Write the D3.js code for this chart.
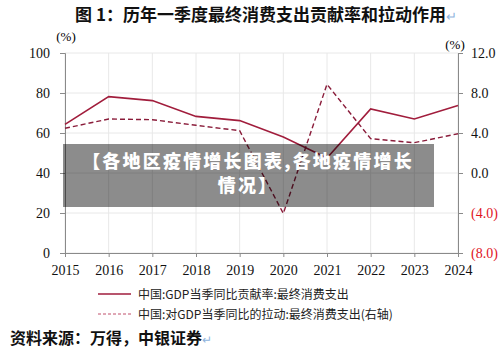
<!DOCTYPE html>
<html>
<head>
<meta charset="utf-8">
<script src="https://cdn.jsdelivr.net/npm/d3@7"></script>
<style>
  body { margin: 0; background: #fff; }
  svg { display: block; }
</style>
</head>
<body>
<div id="chart"></div>
<script>
// data
var years = [2015, 2016, 2017, 2018, 2019, 2020, 2021, 2022, 2023, 2024];
var contribution = [64.3, 78.2, 76.2, 68.3, 66.2, 58.0, 47.5, 72.0, 67.0, 73.7];   // left axis, %
var pull = [4.47, 5.4, 5.33, 4.77, 4.23, -4.05, 8.87, 3.43, 3.03, 3.93];              // right axis, pct points
var leftTicks = [0, 20, 40, 60, 80, 100];
var rightTicks = [-8, -4, 0, 4, 8, 12];

var W = 500, H = 352;
var margin = {top: 53, right: 42, bottom: 99, left: 65},
    width = W - margin.left - margin.right,
    height = H - margin.top - margin.bottom;

var red = "#a11d3c";
var serif = "'Liberation Serif', 'DejaVu Serif', serif";
var cjk = "'Noto Sans CJK SC', sans-serif";

var svg = d3.select("#chart")
    .append("svg")
    .attr("width", W)
    .attr("height", H);

// title
var title = svg.append("text")
    .attr("x", 266)
    .attr("y", 21)
    .attr("text-anchor", "middle")
    .style("font-family", cjk)
    .style("font-size", "17px")
    .style("font-weight", 700)
    .style("fill", "#111");
title.append("tspan").text("图 1：历年一季度最终消费支出贡献率和拉动作用");
title.append("tspan").style("fill", "#8fb4dd").style("font-weight", 400).style("font-size", "13px").text("↵");

var g = svg.append("g")
    .attr("transform", "translate(" + margin.left + "," + margin.top + ")");

var x = d3.scaleLinear().domain([2015, 2024]).range([0, width]);
var yL = d3.scaleLinear().domain([0, 100]).range([height, 0]);
var yR = d3.scaleLinear().domain([-8, 12]).range([height, 0]);

// gridlines
g.append("g").selectAll("line.v")
    .data(years)
    .enter().append("line")
    .attr("x1", d => x(d)).attr("x2", d => x(d))
    .attr("y1", 0).attr("y2", height)
    .attr("stroke", "#e8e8e8");
g.append("g").selectAll("line.h")
    .data(leftTicks)
    .enter().append("line")
    .attr("x1", 0).attr("x2", width)
    .attr("y1", d => yL(d)).attr("y2", d => yL(d))
    .attr("stroke", "#e8e8e8");

// axes
var xAxis = g.append("g")
    .attr("transform", "translate(0," + height + ")")
    .call(d3.axisBottom(x).tickValues(years).tickFormat(d3.format("d")).tickSize(4).tickPadding(6));
var yAxisL = g.append("g")
    .call(d3.axisLeft(yL).tickValues(leftTicks).tickSize(5).tickPadding(10));
var yAxisR = g.append("g")
    .attr("transform", "translate(" + width + ",0)")
    .call(d3.axisRight(yR).tickValues(rightTicks).tickSize(5).tickPadding(8)
        .tickFormat(d => d < 0 ? "(" + d3.format(".1f")(-d) + ")" : d3.format(".1f")(d)));

[xAxis, yAxisL, yAxisR].forEach(function(a) {
    a.select(".domain").attr("stroke", "#8a8a8a");
    a.selectAll(".tick line").attr("stroke", "#8a8a8a");
    a.selectAll("text")
        .style("font-family", serif)
        .style("font-size", "14px")
        .style("fill", "#111");
});
xAxis.selectAll("text").attr("dy", "0.85em");
yAxisR.selectAll("text").style("fill", d => d < 0 ? "#e0141e" : "#111");

// unit labels
svg.append("text").attr("x", 66).attr("y", 41).attr("text-anchor", "middle")
    .style("font-family", serif).style("font-size", "13px").text("(%)");
svg.append("text").attr("x", 455).attr("y", 49).attr("text-anchor", "middle")
    .style("font-family", serif).style("font-size", "13px").text("(%)");

// lines
var lineL = d3.line().x((d, i) => x(years[i])).y(d => yL(d));
var lineR = d3.line().x((d, i) => x(years[i])).y(d => yR(d));

g.append("path")
    .datum(contribution)
    .attr("d", lineL)
    .attr("fill", "none")
    .attr("stroke", red)
    .attr("stroke-width", 1.6);

g.append("path")
    .datum(pull)
    .attr("d", lineR)
    .attr("fill", "none")
    .attr("stroke", "#8a1c3a")
    .attr("stroke-width", 1.4)
    .attr("stroke-dasharray", "5,3");

// legend
var legend = svg.append("g");
legend.append("line").attr("x1", 98).attr("x2", 131).attr("y1", 294).attr("y2", 294)
    .attr("stroke", red).attr("stroke-width", 1.4);
legend.append("line").attr("x1", 98).attr("x2", 131).attr("y1", 314).attr("y2", 314)
    .attr("stroke", "#c0506c").attr("stroke-width", 1).attr("stroke-dasharray", "3,2");
legend.append("text").attr("x", 138).attr("y", 298.5)
    .style("font-family", cjk).style("font-size", "12px").style("fill", "#222")
    .text("中国:GDP当季同比贡献率:最终消费支出");
legend.append("text").attr("x", 138).attr("y", 318.5)
    .style("font-family", cjk).style("font-size", "12px").style("fill", "#222")
    .text("中国:对GDP当季同比的拉动:最终消费支出(右轴)");

// source
var src = svg.append("text").attr("x", 10).attr("y", 344)
    .style("font-family", cjk).style("font-size", "16px").style("font-weight", 700).style("fill", "#111");
src.append("tspan").text("资料来源：万得，中银证券");
src.append("tspan").style("fill", "#8fb4dd").style("font-weight", 400).style("font-size", "12px").text("↵");

// overlay banner
svg.append("rect")
    .attr("x", 63).attr("y", 144).attr("width", 371).attr("height", 63)
    .attr("fill", "#000").attr("fill-opacity", 0.45);
["【各地区疫情增长图表,各地疫情增长", "情况】"].forEach(function(t, i) {
    svg.append("text")
        .attr("x", 248)
        .attr("y", 168 + i * 24)
        .attr("text-anchor", "middle")
        .style("font-family", cjk).style("font-size", "18px").style("font-weight", 900)
        .style("letter-spacing", "2.2px")
        .style("fill", "#fff")
        .text(t);
});
</script>
</body>
</html>
